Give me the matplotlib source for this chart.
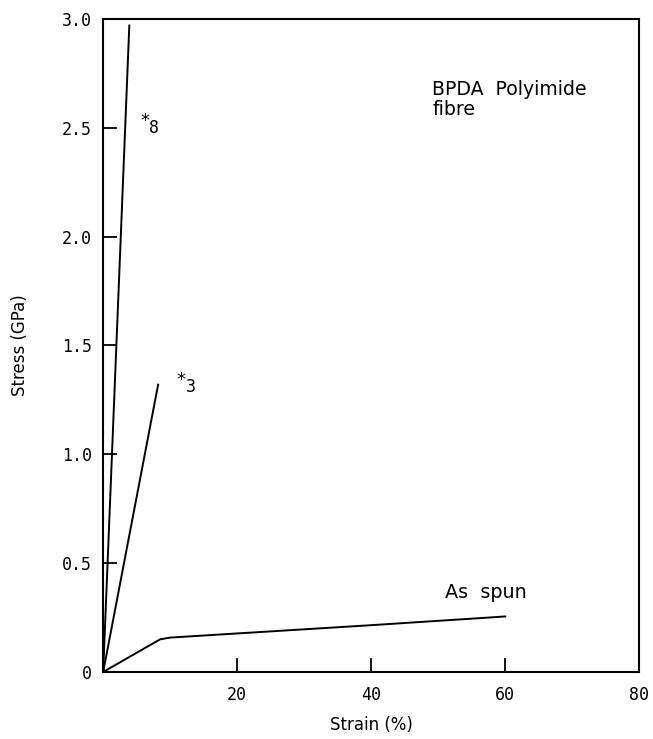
import matplotlib
matplotlib.use("Agg")
import matplotlib.pyplot as plt

# Data
s8_strain = [0.0, 3.9]
s8_stress = [0.0, 2.97]
s3_strain = [0.0, 8.2]
s3_stress = [0.0, 1.32]
spun_strain = [0.0, 8.5, 10.0, 40.0, 60.0]
spun_stress = [0.0, 0.15, 0.158, 0.215, 0.255]

x_ticks = [20, 40, 60, 80]
x_ticklabels = ["20", "40", "60", "80"]
y_ticks = [0, 0.5, 1.0, 1.5, 2.0, 2.5, 3.0]
y_ticklabels = ["0", "0.5", "1.0", "1.5", "2.0", "2.5", "3.0"]

fig = plt.figure(figsize=(6.53, 7.39), dpi=100)
ax = fig.add_axes([0.158, 0.0907, 0.821, 0.8836])

lw = 1.4
ax.plot(s8_strain, s8_stress, color="black", lw=lw)
ax.plot(s3_strain, s3_stress, color="black", lw=lw)
ax.plot(spun_strain, spun_stress, color="black", lw=lw)

ax.set_xlim(0, 80)
ax.set_ylim(0, 3.0)
ax.set_xticks(x_ticks)
ax.set_xticklabels(x_ticklabels, family="DejaVu Sans Mono", fontsize=12)
ax.set_yticks(y_ticks)
ax.set_yticklabels(y_ticklabels, family="DejaVu Sans Mono", fontsize=12)
ax.tick_params(direction="in", length=10, width=1.3, pad=8)
ax.tick_params(axis="x", pad=10)
for sp in ax.spines.values():
    sp.set_linewidth(1.5)

ax.set_xlabel("Strain (%)", fontsize=12, labelpad=9)
ax.set_ylabel("Stress (GPa)", fontsize=12, labelpad=24)

ax.text(5.6, 2.53, "*", fontsize=13, ha="left", va="center")
ax.text(6.8, 2.50, "8", fontsize=12, ha="left", va="center", family="DejaVu Sans Mono")
ax.text(11.0, 1.34, "*", fontsize=13, ha="left", va="center")
ax.text(12.3, 1.31, "3", fontsize=12, ha="left", va="center", family="DejaVu Sans Mono")
ax.text(51.0, 0.363, "As  spun", fontsize=13.8, ha="left", va="center")
ax.text(49.1, 2.63, "BPDA  Polyimide\nfibre", fontsize=13.6, ha="left", va="center", linespacing=1.05)

fig.savefig("out.png", dpi=100)
